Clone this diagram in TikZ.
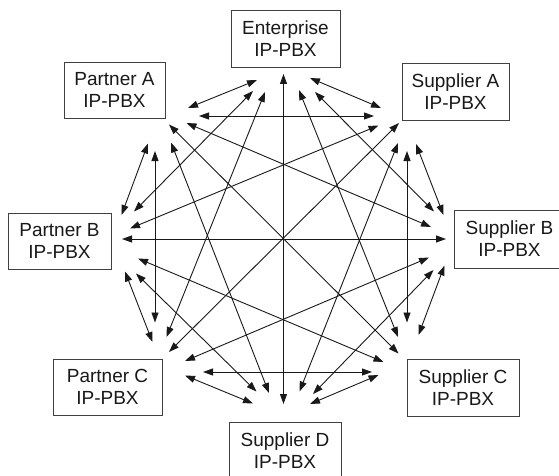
\documentclass[tikz,border=0pt]{standalone}
\usepackage{fontspec}
\setmainfont{Liberation Sans}
\usetikzlibrary{arrows.meta}

\begin{document}
\begin{tikzpicture}[x=1pt,y=-1pt,
  pbx/.style={draw=black!75, line width=0.9pt, fill=white, align=center,
    inner sep=0pt, text=black!90, font=\fontsize{19}{22}\selectfont},
  biarrow/.style={draw=black!90, line width=0.9pt,
    {Triangle[length=10pt,width=7pt]}-{Triangle[length=10pt,width=7pt]}}]

\useasboundingbox (0,0) rectangle (559,476);

% exchanges
\node[pbx, minimum width=109pt, minimum height=57pt] (ent) at (285.5,38.5) {Enterprise\\IP-PBX};
\node[pbx, minimum width=101pt, minimum height=56pt] (pa)  at (114.5,90)   {Partner A\\IP-PBX};
\node[pbx, minimum width=107pt, minimum height=57pt] (sa)  at (455.5,91.5) {Supplier A\\IP-PBX};
\node[pbx, minimum width=103pt, minimum height=56pt] (pb)  at (59.5,241)   {Partner B\\IP-PBX};
\node[pbx, minimum width=111pt, minimum height=58pt] (sb)  at (509.5,239)  {Supplier B\\IP-PBX};
\node[pbx, minimum width=109pt, minimum height=56pt] (pc)  at (107.5,387)  {Partner C\\IP-PBX};
\node[pbx, minimum width=112pt, minimum height=57pt] (sc)  at (463,387.5)  {Supplier C\\IP-PBX};
\node[pbx, minimum width=112pt, minimum height=57pt] (sd)  at (285,451)    {Supplier D\\IP-PBX};

% trunk end points around each exchange
\coordinate (e-pa) at (257,80);    \coordinate (e-pb) at (253,91);
\coordinate (e-pc) at (265,92);    \coordinate (e-sd) at (283.5,74);
\coordinate (e-sc) at (299,90);    \coordinate (e-sa) at (310,78);
\coordinate (e-sb) at (315,92);

\coordinate (pa-e)  at (188,108);  \coordinate (pa-sa) at (199,116);
\coordinate (pa-sb) at (186.5,123);\coordinate (pa-sc) at (169,124.5);
\coordinate (pa-pb) at (148,143.5);\coordinate (pa-pc) at (155,151);
\coordinate (pa-sd) at (171,142.5);

\coordinate (sa-e)  at (381,108);  \coordinate (sa-pa) at (374,116);
\coordinate (sa-pb) at (378.5,125.5); \coordinate (sa-pc) at (399,123);
\coordinate (sa-sd) at (398,143);  \coordinate (sa-sc) at (407,151);
\coordinate (sa-sb) at (416,144);

\coordinate (pb-pa) at (121.5,215);\coordinate (pb-e)  at (134,211.5);
\coordinate (pb-sa) at (130,228.5);\coordinate (pb-sb) at (122,239);
\coordinate (pb-sc) at (138,258.5);\coordinate (pb-pc) at (125,271.5);
\coordinate (pb-sd) at (136,273.5);

\coordinate (sb-e)  at (434,211.5);\coordinate (sb-sa) at (443.5,215);
\coordinate (sb-pa) at (431,227);  \coordinate (sb-pb) at (446,239);
\coordinate (sb-pc) at (429,257.5);\coordinate (sb-sd) at (433.5,270);
\coordinate (sb-sc) at (444.5,265.5);

\coordinate (pc-pa) at (155,322.5);\coordinate (pc-pb) at (152.5,342);
\coordinate (pc-e)  at (166.5,337);\coordinate (pc-sa) at (169,352);
\coordinate (pc-sb) at (185,361);  \coordinate (pc-sc) at (203,372);
\coordinate (pc-sd) at (185,375.5);

\coordinate (sc-sa) at (407,322.5);\coordinate (sc-sb) at (418.5,335);
\coordinate (sc-e)  at (398,337);  \coordinate (sc-pa) at (398.5,353.5);
\coordinate (sc-pb) at (383.5,362);\coordinate (sc-pc) at (372,372);
\coordinate (sc-sd) at (378.5,375);

\coordinate (sd-pc) at (253,403.5);\coordinate (sd-pb) at (256.5,391.5);
\coordinate (sd-pa) at (269,393);  \coordinate (sd-e)  at (283.5,404);
\coordinate (sd-sa) at (299.5,391.5); \coordinate (sd-sb) at (313,394);
\coordinate (sd-sc) at (310,404);

% full mesh of trunks
\draw[biarrow] (e-pa) -- (pa-e);
\draw[biarrow] (e-sa) -- (sa-e);
\draw[biarrow] (e-pb) -- (pb-e);
\draw[biarrow] (e-sb) -- (sb-e);
\draw[biarrow] (e-pc) -- (pc-e);
\draw[biarrow] (e-sc) -- (sc-e);
\draw[biarrow] (e-sd) -- (sd-e);

\draw[biarrow] (pa-sa) -- (sa-pa);
\draw[biarrow] (pa-pb) -- (pb-pa);
\draw[biarrow] (pa-sb) -- (sb-pa);
\draw[biarrow] (pa-pc) -- (pc-pa);
\draw[biarrow] (pa-sc) -- (sc-pa);
\draw[biarrow] (pa-sd) -- (sd-pa);

\draw[biarrow] (sa-pb) -- (pb-sa);
\draw[biarrow] (sa-sb) -- (sb-sa);
\draw[biarrow] (sa-pc) -- (pc-sa);
\draw[biarrow] (sa-sc) -- (sc-sa);
\draw[biarrow] (sa-sd) -- (sd-sa);

\draw[biarrow] (pb-sb) -- (sb-pb);
\draw[biarrow] (pb-pc) -- (pc-pb);
\draw[biarrow] (pb-sc) -- (sc-pb);
\draw[biarrow] (pb-sd) -- (sd-pb);

\draw[biarrow] (sb-pc) -- (pc-sb);
\draw[biarrow] (sb-sc) -- (sc-sb);
\draw[biarrow] (sb-sd) -- (sd-sb);

\draw[biarrow] (pc-sc) -- (sc-pc);
\draw[biarrow] (pc-sd) -- (sd-pc);

\draw[biarrow] (sc-sd) -- (sd-sc);
\end{tikzpicture}
\end{document}
